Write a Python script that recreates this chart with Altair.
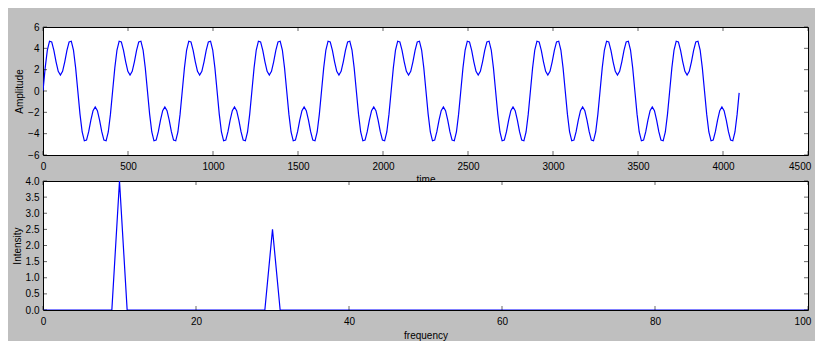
import altair as alt
import pandas as pd

# ---- top panel: sampled signal (one row = one period of 32 samples) ----
amplitude = [
    0.0, 2.17, 3.84, 4.67, 4.6, 3.81, 2.74, 1.84, 1.5, 1.84, 2.74, 3.81, 4.6, 4.67, 3.84, 2.17, 0.0, -2.17, -3.84, -4.67, -4.6, -3.81, -2.74, -1.84, -1.5, -1.84, -2.74, -3.81, -4.6, -4.67, -3.84, -2.17,
    0.0, 2.17, 3.84, 4.67, 4.6, 3.81, 2.74, 1.84, 1.5, 1.84, 2.74, 3.81, 4.6, 4.67, 3.84, 2.17, 0.0, -2.17, -3.84, -4.67, -4.6, -3.81, -2.74, -1.84, -1.5, -1.84, -2.74, -3.81, -4.6, -4.67, -3.84, -2.17,
    0.0, 2.17, 3.84, 4.67, 4.6, 3.81, 2.74, 1.84, 1.5, 1.84, 2.74, 3.81, 4.6, 4.67, 3.84, 2.17, 0.0, -2.17, -3.84, -4.67, -4.6, -3.81, -2.74, -1.84, -1.5, -1.84, -2.74, -3.81, -4.6, -4.67, -3.84, -2.17,
    0.0, 2.17, 3.84, 4.67, 4.6, 3.81, 2.74, 1.84, 1.5, 1.84, 2.74, 3.81, 4.6, 4.67, 3.84, 2.17, 0.0, -2.17, -3.84, -4.67, -4.6, -3.81, -2.74, -1.84, -1.5, -1.84, -2.74, -3.81, -4.6, -4.67, -3.84, -2.17,
    0.0, 2.17, 3.84, 4.67, 4.6, 3.81, 2.74, 1.84, 1.5, 1.84, 2.74, 3.81, 4.6, 4.67, 3.84, 2.17, 0.0, -2.17, -3.84, -4.67, -4.6, -3.81, -2.74, -1.84, -1.5, -1.84, -2.74, -3.81, -4.6, -4.67, -3.84, -2.17,
    0.0, 2.17, 3.84, 4.67, 4.6, 3.81, 2.74, 1.84, 1.5, 1.84, 2.74, 3.81, 4.6, 4.67, 3.84, 2.17, 0.0, -2.17, -3.84, -4.67, -4.6, -3.81, -2.74, -1.84, -1.5, -1.84, -2.74, -3.81, -4.6, -4.67, -3.84, -2.17,
    0.0, 2.17, 3.84, 4.67, 4.6, 3.81, 2.74, 1.84, 1.5, 1.84, 2.74, 3.81, 4.6, 4.67, 3.84, 2.17, 0.0, -2.17, -3.84, -4.67, -4.6, -3.81, -2.74, -1.84, -1.5, -1.84, -2.74, -3.81, -4.6, -4.67, -3.84, -2.17,
    0.0, 2.17, 3.84, 4.67, 4.6, 3.81, 2.74, 1.84, 1.5, 1.84, 2.74, 3.81, 4.6, 4.67, 3.84, 2.17, 0.0, -2.17, -3.84, -4.67, -4.6, -3.81, -2.74, -1.84, -1.5, -1.84, -2.74, -3.81, -4.6, -4.67, -3.84, -2.17,
    0.0, 2.17, 3.84, 4.67, 4.6, 3.81, 2.74, 1.84, 1.5, 1.84, 2.74, 3.81, 4.6, 4.67, 3.84, 2.17, 0.0, -2.17, -3.84, -4.67, -4.6, -3.81, -2.74, -1.84, -1.5, -1.84, -2.74, -3.81, -4.6, -4.67, -3.84, -2.17,
    0.0, 2.17, 3.84, 4.67, 4.6, 3.81, 2.74, 1.84, 1.5, 1.84, 2.74, 3.81, 4.6, 4.67, 3.84, 2.17, 0.0, -2.17, -3.84, -4.67, -4.6, -3.81, -2.74, -1.84, -1.5, -1.84, -2.74, -3.81, -4.6, -4.67, -3.84, -2.17,
    -0.18,
]
sample_step = 12.8
time = [round(i * sample_step, 1) for i in range(len(amplitude) - 1)] + [4095]

# ---- bottom panel: spectrum ----
frequency = list(range(0, 101))
intensity = [
    0, 0, 0, 0, 0, 0, 0, 0, 0, 0,
    4.0, 0, 0, 0, 0, 0, 0, 0, 0, 0,
    0, 0, 0, 0, 0, 0, 0, 0, 0, 0,
    2.5, 0, 0, 0, 0, 0, 0, 0, 0, 0,
    0, 0, 0, 0, 0, 0, 0, 0, 0, 0,
    0, 0, 0, 0, 0, 0, 0, 0, 0, 0,
    0, 0, 0, 0, 0, 0, 0, 0, 0, 0,
    0, 0, 0, 0, 0, 0, 0, 0, 0, 0,
    0, 0, 0, 0, 0, 0, 0, 0, 0, 0,
    0, 0, 0, 0, 0, 0, 0, 0, 0, 0,
    0,
]

# ---- tick values ----
time_ticks = [0, 500, 1000, 1500, 2000, 2500, 3000, 3500, 4000, 4500]
amp_ticks = [-6, -4, -2, 0, 2, 4, 6]
freq_ticks = [0, 20, 40, 60, 80, 100]
int_ticks = [0.0, 0.5, 1.0, 1.5, 2.0, 2.5, 3.0, 3.5, 4.0]

FONT = "Liberation Sans"
W = 765
TICK = 4


def panel(df, xf, yf, xdom, ydom, xt, yt, xtitle, ytitle, h, xfmt, yfmt, xtitle_pad):
    xs = alt.Scale(domain=xdom, nice=False, zero=False)
    ys = alt.Scale(domain=ydom, nice=False, zero=False)
    xa = alt.Axis(values=xt, title=xtitle, format=xfmt, ticks=False, tickSize=0,
                  domain=False, grid=False, labelPadding=6, titlePadding=xtitle_pad,
                  labelFlush=True, labelFlushOffset=2.8, labelOverlap=False)
    ya = alt.Axis(values=yt, title=ytitle, format=yfmt, ticks=False, tickSize=0,
                  domain=False, grid=False, labelPadding=4, titlePadding=3,
                  labelFlush=False, labelOverlap=False)
    line = alt.Chart(df).mark_line(color="#0000ff", strokeWidth=1.2, clip=True).encode(
        x=alt.X(f"{xf}:Q", scale=xs, axis=xa),
        y=alt.Y(f"{yf}:Q", scale=ys, axis=ya),
    )
    xdf = pd.DataFrame({xf: xt})
    ydf = pd.DataFrame({yf: yt})
    rule = dict(color="black", strokeWidth=0.6)
    xb = alt.Chart(xdf).mark_rule(**rule).encode(
        x=alt.X(f"{xf}:Q", scale=xs, axis=xa), y=alt.value(h - TICK), y2=alt.value(h))
    xtp = alt.Chart(xdf).mark_rule(**rule).encode(
        x=alt.X(f"{xf}:Q", scale=xs, axis=xa), y=alt.value(0), y2=alt.value(TICK))
    yl = alt.Chart(ydf).mark_rule(**rule).encode(
        y=alt.Y(f"{yf}:Q", scale=ys, axis=ya), x=alt.value(0), x2=alt.value(TICK))
    yr = alt.Chart(ydf).mark_rule(**rule).encode(
        y=alt.Y(f"{yf}:Q", scale=ys, axis=ya), x=alt.value(W - TICK), x2=alt.value(W))
    return alt.layer(line, xb, xtp, yl, yr).properties(width=W, height=h)


top = panel(pd.DataFrame({"time": time, "amplitude": amplitude}), "time", "amplitude",
            [0, 4500], [-6, 6], time_ticks, amp_ticks, "time", "Amplitude", 128, "d", "d", 3)
bottom = panel(pd.DataFrame({"frequency": frequency, "intensity": intensity}), "frequency", "intensity",
               [0, 100], [0, 4], freq_ticks, int_ticks, "frequency", "Intensity", 129, "d", ".1f", 4)

chart = alt.vconcat(top, bottom, spacing=26, bounds="flush").properties(
    padding={"left": 3, "top": 13, "right": 3, "bottom": 0},
    background="#bfbfbf",
).configure_view(
    stroke="black", strokeWidth=1, fill="white"
).configure_axis(
    labelFont=FONT, labelFontSize=10, labelColor="black",
    titleFont=FONT, titleFontSize=10, titleFontWeight="normal", titleColor="black",
)

chart.save("out.html", embed_options={"renderer": "svg", "actions": False})
